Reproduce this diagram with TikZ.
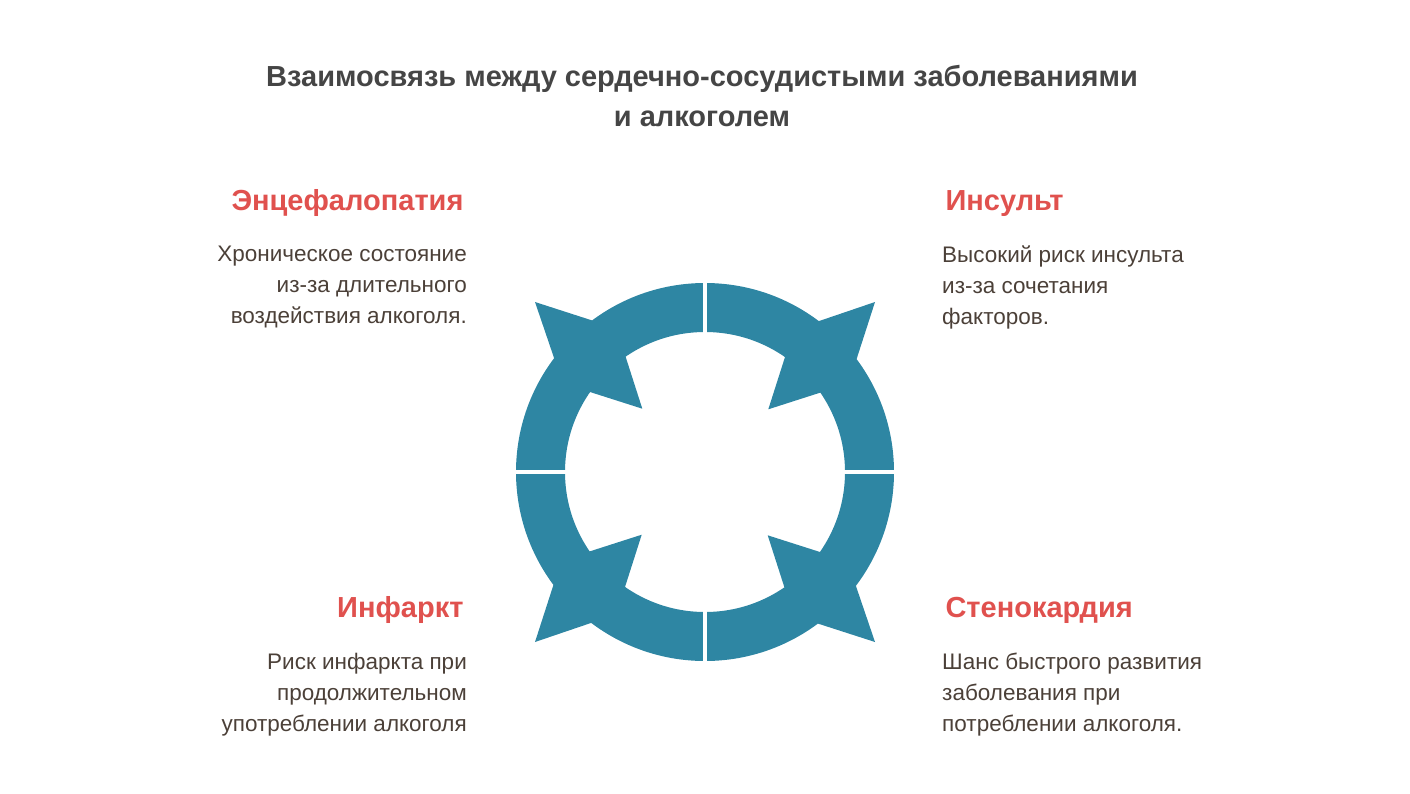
\documentclass[tikz,border=0pt]{standalone}
\usepackage{fontspec}
\setmainfont{Liberation Sans}
\usetikzlibrary{calc}
\definecolor{ringblue}{HTML}{2E86A3}
\definecolor{headred}{HTML}{E0514E}
\definecolor{bodytxt}{HTML}{4B4038}
\definecolor{titletxt}{HTML}{454545}
\tikzset{
  headl/.style={anchor=base east, font=\fontsize{29}{34}\selectfont\bfseries, text=headred},
  headr/.style={anchor=base west, font=\fontsize{29}{34}\selectfont\bfseries, text=headred},
  bodyl/.style={anchor=north east, align=right, font=\fontsize{22.5}{31}\selectfont, text=bodytxt, inner sep=0pt},
  bodyr/.style={anchor=north west, align=left, font=\fontsize{22.5}{31}\selectfont, text=bodytxt, inner sep=0pt}
}
\begin{document}
\begin{tikzpicture}[x=1pt,y=-1pt]
  \useasboundingbox (0,0) rectangle (1410,793);
  % title
  \node (title) at (702,96) [align=center, font=\fontsize{29}{40}\selectfont\bfseries, text=titletxt]
    {Взаимосвязь между сердечно-сосудистыми заболеваниями\\и алкоголем};
  % ring
  \coordinate (c) at (705,472);
  \fill[ringblue, even odd rule] (c) circle (189) (c) circle (140);
  \foreach \a in {0,90,180,270}
    \fill[ringblue, rotate around={\a:(c)}]
      ($(c)+(-170,-170)$) -- ($(c)+(-113.3,-151.7)$) -- ($(c)+(-79.3,-115)$)
      -- ($(c)+(-62.7,-63.3)$) -- ($(c)+(-115,-80)$) -- ($(c)+(-150.7,-113.3)$) -- cycle;
  \draw[white, line width=3.5pt] ($(c)+(-195,0)$) -- ($(c)+(195,0)$);
  \draw[white, line width=3.5pt] ($(c)+(0,-195)$) -- ($(c)+(0,195)$);
  % texts
  \node[headl] (enc) at (467,210) {Энцефалопатия};
  \node[bodyl] (encb) at (467,246) {Хроническое состояние\\из-за длительного\\воздействия алкоголя.};
  \node[headr] (ins) at (942,210) {Инсульт};
  \node[bodyr] (insb) at (942,246) {Высокий риск инсульта\\из-за сочетания\\факторов.};
  \node[headl] (inf) at (467,617) {Инфаркт};
  \node[bodyl] (infb) at (467,653) {Риск инфаркта при\\продолжительном\\употреблении алкоголя};
  \node[headr] (sten) at (942,617) {Стенокардия};
  \node[bodyr] (stenb) at (942,653) {Шанс быстрого развития\\заболевания при\\потреблении алкоголя.};
\end{tikzpicture}
\end{document}
